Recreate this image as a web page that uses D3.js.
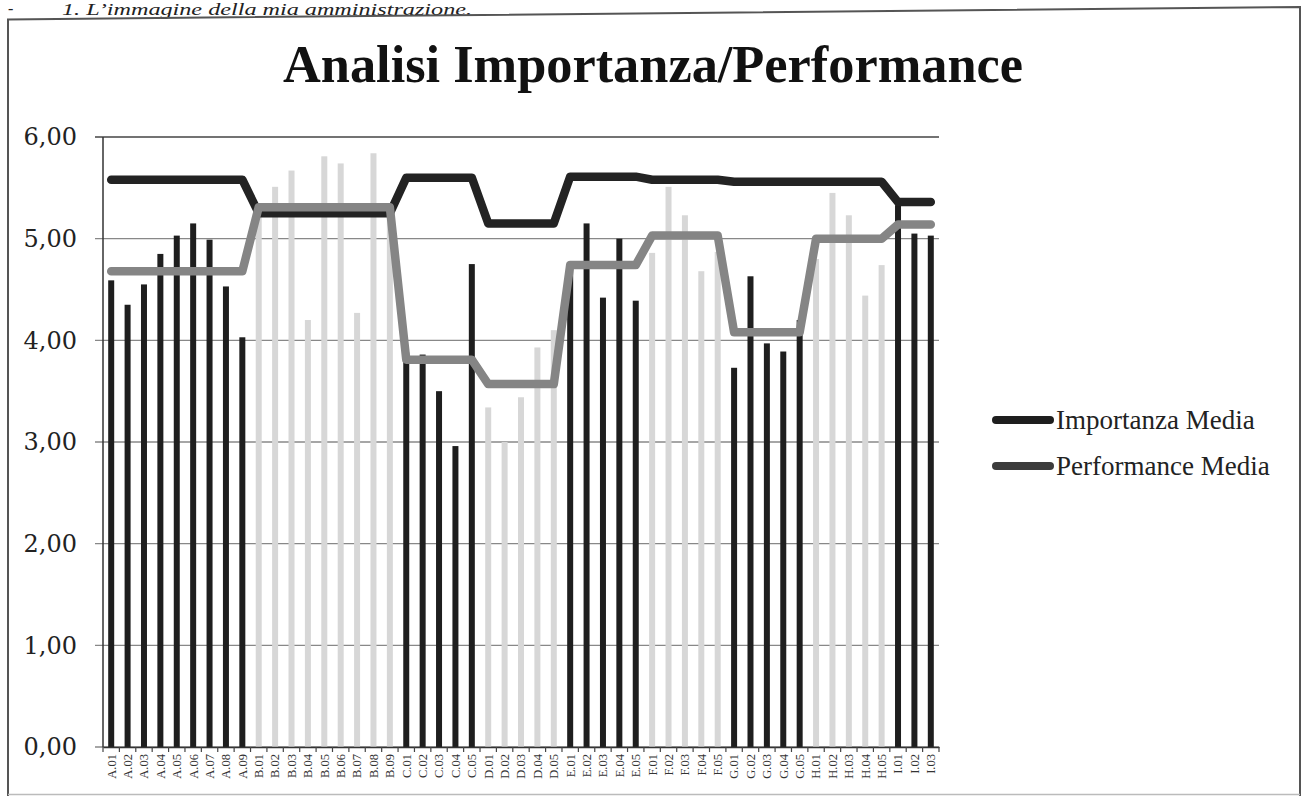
<!DOCTYPE html>
<html>
<head>
<meta charset="utf-8">
<script src="https://cdn.jsdelivr.net/npm/d3@7"></script>
<style>
  html, body { margin: 0; padding: 0; background: #fff; }
  svg { display: block; }
</style>
</head>
<body>
<svg id="chart" width="1304" height="796"></svg>
<script>
// Item codes on the x axis
const categories = [
  "A.01","A.02","A.03","A.04","A.05","A.06","A.07","A.08","A.09",
  "B.01","B.02","B.03","B.04","B.05","B.06","B.07","B.08","B.09",
  "C.01","C.02","C.03","C.04","C.05",
  "D.01","D.02","D.03","D.04","D.05",
  "E.01","E.02","E.03","E.04","E.05",
  "F.01","F.02","F.03","F.04","F.05",
  "G.01","G.02","G.03","G.04","G.05",
  "H.01","H.02","H.03","H.04","H.05",
  "I.01","I.02","I.03"
];

// Score of each item (bars)
const itemScores = [
  4.59, 4.35, 4.55, 4.85, 5.03, 5.15, 4.99, 4.53, 4.03,
  5.33, 5.51, 5.67, 4.20, 5.81, 5.74, 4.27, 5.84, 5.33,
  3.88, 3.86, 3.50, 2.96, 4.75,
  3.34, 3.00, 3.44, 3.93, 4.10,
  4.75, 5.15, 4.42, 5.00, 4.39,
  4.86, 5.51, 5.23, 4.68, 4.87,
  3.73, 4.63, 3.97, 3.89, 4.20,
  4.80, 5.45, 5.23, 4.44, 4.74,
  5.33, 5.05, 5.03
];

// Average importance per item (line)
const importanzaMedia = [
  5.58, 5.58, 5.58, 5.58, 5.58, 5.58, 5.58, 5.58, 5.58,
  5.25, 5.25, 5.25, 5.25, 5.25, 5.25, 5.25, 5.25, 5.25,
  5.60, 5.60, 5.60, 5.60, 5.60,
  5.15, 5.15, 5.15, 5.15, 5.15,
  5.61, 5.61, 5.61, 5.61, 5.61,
  5.58, 5.58, 5.58, 5.58, 5.58,
  5.56, 5.56, 5.56, 5.56, 5.56,
  5.56, 5.56, 5.56, 5.56, 5.56,
  5.36, 5.36, 5.36
];

// Average performance per item (line)
const performanceMedia = [
  4.68, 4.68, 4.68, 4.68, 4.68, 4.68, 4.68, 4.68, 4.68,
  5.31, 5.31, 5.31, 5.31, 5.31, 5.31, 5.31, 5.31, 5.31,
  3.81, 3.81, 3.81, 3.81, 3.81,
  3.57, 3.57, 3.57, 3.57, 3.57,
  4.74, 4.74, 4.74, 4.74, 4.74,
  5.03, 5.03, 5.03, 5.03, 5.03,
  4.08, 4.08, 4.08, 4.08, 4.08,
  5.00, 5.00, 5.00, 5.00, 5.00,
  5.14, 5.14, 5.14
];

// Sections whose bars are drawn dark; the others are light
const darkSections = ["A", "C", "E", "G", "I"];

const yTicks = [0, 1, 2, 3, 4, 5, 6];
const legendLabels = ["Importanza Media", "Performance Media"];
const titleText = "Analisi Importanza/Performance";
const headingText = "1. L\u2019immagine della mia amministrazione.";

const svg = d3.select("#chart");

// Page heading above the frame
svg.append("text")
  .attr("x", 8).attr("y", 14)
  .attr("font-family", "Liberation Serif, serif")
  .attr("font-style", "italic")
  .attr("font-size", 16)
  .attr("fill", "#222")
  .text("-");
svg.append("text")
  .attr("x", 62).attr("y", 15)
  .attr("font-family", "Liberation Serif, serif")
  .attr("font-style", "italic")
  .attr("font-size", 16)
  .attr("fill", "#222")
  .attr("textLength", 410)
  .attr("lengthAdjust", "spacingAndGlyphs")
  .text(headingText);

// Frame around the chart
svg.append("path")
  .attr("d", "M8,796 L8,19.5 L1300,7 L1300,796")
  .attr("fill", "none")
  .attr("stroke", "#555")
  .attr("stroke-width", 2);
svg.append("line")
  .attr("x1", 8).attr("x2", 1300).attr("y1", 794.5).attr("y2", 794.5)
  .attr("stroke", "#bbb").attr("stroke-width", 1.5);

// Title
svg.append("text")
  .attr("x", 283).attr("y", 82)
  .attr("font-family", "Liberation Serif, serif")
  .attr("font-weight", "bold")
  .attr("font-size", 52)
  .attr("fill", "#111")
  .attr("textLength", 740)
  .attr("lengthAdjust", "spacingAndGlyphs")
  .text(titleText);

// Plot area
const plot = { left: 103, right: 939, top: 137, bottom: 747 };

const x = d3.scaleBand()
  .domain(categories)
  .range([plot.left, plot.right])
  .padding(0);

const y = d3.scaleLinear()
  .domain([0, 6])
  .range([plot.bottom, plot.top]);

const itFormat = d3.formatLocale({ decimal: ",", thousands: ".", grouping: [3], currency: ["", "\u20ac"] }).format(".2f");

// Horizontal gridlines with outer ticks
const grid = svg.append("g");
grid.selectAll("line")
  .data(yTicks)
  .join("line")
  .attr("x1", plot.left - 8)
  .attr("x2", plot.right)
  .attr("y1", d => y(d))
  .attr("y2", d => y(d))
  .attr("stroke", d => d === 6 ? "#444" : "#888")
  .attr("stroke-width", d => d === 6 ? 1.6 : 1.3);

// Y tick labels
svg.append("g")
  .selectAll("text")
  .data(yTicks)
  .join("text")
  .attr("x", 77)
  .attr("y", d => y(d))
  .attr("dy", "0.35em")
  .attr("text-anchor", "end")
  .attr("font-family", "DejaVu Serif, serif")
  .attr("font-size", 24)
  .attr("fill", "#222")
  .text(d => itFormat(d));

// Bars
const barW = 6;
svg.append("g")
  .selectAll("rect")
  .data(categories.map((c, i) => ({ c, v: itemScores[i] })))
  .join("rect")
  .attr("x", d => x(d.c) + x.bandwidth() / 2 - barW / 2)
  .attr("width", barW)
  .attr("y", d => y(d.v))
  .attr("height", d => y(0) - y(d.v))
  .attr("fill", d => darkSections.includes(d.c[0]) ? "#1e1e1e" : "#d7d7d7");

// Axes lines
svg.append("line")
  .attr("x1", plot.left).attr("x2", plot.left)
  .attr("y1", plot.top).attr("y2", plot.bottom)
  .attr("stroke", "#333").attr("stroke-width", 1.5);

const xAxis = d3.axisBottom(x).tickSize(0).tickPadding(6);
const xg = svg.append("g")
  .attr("transform", `translate(0,${plot.bottom})`)
  .call(xAxis);
xg.select(".domain").attr("stroke", "#333").attr("stroke-width", 1.5);
xg.selectAll(".tick text")
  .attr("font-family", "Liberation Serif, serif")
  .attr("font-size", 12.5)
  .attr("fill", "#333")
  .attr("transform", "rotate(-90)")
  .attr("text-anchor", "end")
  .attr("x", -7)
  .attr("y", 0)
  .attr("dy", "0.35em");

// Small tick marks at the band boundaries
const boundaries = categories.map(c => x(c)).concat([plot.right]);
svg.append("g")
  .selectAll("line")
  .data(boundaries)
  .join("line")
  .attr("x1", d => d).attr("x2", d => d)
  .attr("y1", plot.bottom).attr("y2", plot.bottom + 5)
  .attr("stroke", "#444").attr("stroke-width", 1.2);

// Average lines
const lineGen = d3.line()
  .x(d => x(d.c) + x.bandwidth() / 2)
  .y(d => y(d.v));

const series = [
  { name: legendLabels[0], values: importanzaMedia, color: "#232323" },
  { name: legendLabels[1], values: performanceMedia, color: "#858585" }
];

svg.append("g")
  .selectAll("path")
  .data(series)
  .join("path")
  .attr("d", s => lineGen(categories.map((c, i) => ({ c, v: s.values[i] }))))
  .attr("fill", "none")
  .attr("stroke", s => s.color)
  .attr("stroke-width", 8.5)
  .attr("stroke-linejoin", "round")
  .attr("stroke-linecap", "round");

// Legend
const legend = svg.append("g");
const legendRows = [
  { label: legendLabels[0], color: "#1e1e1e", y: 420 },
  { label: legendLabels[1], color: "#3c3c3c", y: 466 }
];
legend.selectAll("line")
  .data(legendRows)
  .join("line")
  .attr("x1", 996).attr("x2", 1050)
  .attr("y1", d => d.y).attr("y2", d => d.y)
  .attr("stroke", d => d.color)
  .attr("stroke-width", 8)
  .attr("stroke-linecap", "round");
legend.selectAll("text")
  .data(legendRows)
  .join("text")
  .attr("x", 1056)
  .attr("y", d => d.y)
  .attr("dy", "0.33em")
  .attr("font-family", "Liberation Serif, serif")
  .attr("font-size", 27)
  .attr("fill", "#222")
  .text(d => d.label);
</script>
</body>
</html>
